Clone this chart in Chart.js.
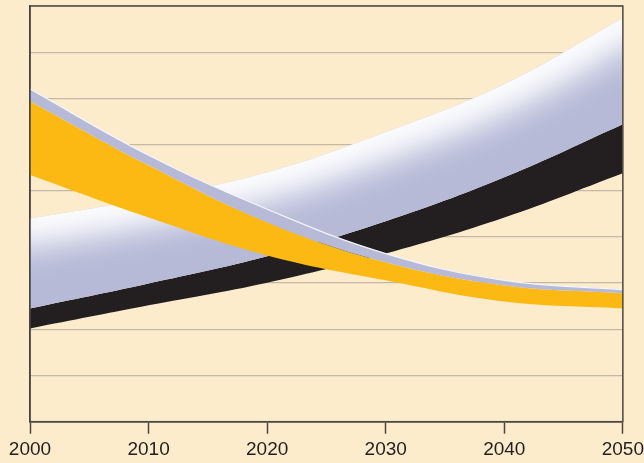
<!DOCTYPE html>
<html>
<head>
<meta charset="utf-8">
<script src="https://cdn.jsdelivr.net/npm/chart.js@4/dist/chart.umd.min.js"></script>
<style>
  html, body { margin: 0; padding: 0; background: #FCECCC; overflow: hidden; }
  canvas { display: block; }
</style>
</head>
<body>
<canvas id="grafico" width="644" height="463"></canvas>
<script>
// Años del eje X
const anios = [2000, 2010, 2020, 2030, 2040, 2050];

// Banda descendente (lavanda fina arriba, amarillo debajo)
const bajaSuperior = [7.20, 5.77, 4.60, 3.64, 3.06, 2.86];
const bajaMedio = [6.94, 5.55, 4.32, 3.45, 2.95, 2.78];
const bajaInferior = [5.34, 4.42, 3.60, 3.06, 2.60, 2.45];

// Banda ascendente (lavanda arriba, negro debajo)
const subidaSuperior = [4.40, 4.84, 5.40, 6.27, 7.31, 8.74];
const subidaMedio = [2.45, 2.99, 3.58, 4.34, 5.29, 6.44];
const subidaInferior = [2.02, 2.52, 3.01, 3.64, 4.42, 5.38];

const lavanda = '#B6BAD7';
const amarillo = '#FDB913';
const negro = '#231F20';
const marco = '#4A4643';

function puntos(valores) {
    return anios.map((a, i) => ({ x: a, y: valores[i] }));
}

// Recorre la curva de un dataset usando los puntos de control de Chart.js
function trazarCurva(ctx, pts, inverso, mover) {
    const lista = inverso ? pts.slice().reverse() : pts;
    lista.forEach((p, i) => {
        if (i === 0) {
            if (mover) ctx.moveTo(p.x, p.y); else ctx.lineTo(p.x, p.y);
            return;
        }
        const prev = lista[i - 1];
        if (!inverso) ctx.bezierCurveTo(prev.cp2x, prev.cp2y, p.cp1x, p.cp1y, p.x, p.y);
        else ctx.bezierCurveTo(prev.cp1x, prev.cp1y, p.cp2x, p.cp2y, p.x, p.y);
    });
}

// Brillo blanco a lo largo del borde superior de la banda ascendente
const pluginBrillo = {
    id: 'brillo',
    afterDatasetDraw(chart, args) {
        if (args.index !== 3) return;
        const sup = chart.getDatasetMeta(3).data;
        const med = chart.getDatasetMeta(4).data;
        const ctx = chart.ctx;
        ctx.save();
        ctx.beginPath();
        trazarCurva(ctx, sup, false, true);
        trazarCurva(ctx, med, true, false);
        ctx.closePath();
        ctx.clip();
        ctx.beginPath();
        trazarCurva(ctx, sup, false, true);
        ctx.strokeStyle = '#FFFFFF';
        ctx.lineJoin = 'round';
        ctx.lineCap = 'square';
        if ('filter' in ctx) {
            ctx.filter = 'blur(16px)';
            ctx.lineWidth = 54;
            ctx.stroke();
        } else {
            for (let w = 90; w > 0; w -= 6) {
                ctx.globalAlpha = 0.08;
                ctx.lineWidth = w;
                ctx.stroke();
            }
        }
        ctx.restore();
    }
};

// Marco completo alrededor del área del gráfico
const pluginMarco = {
    id: 'marco',
    afterDatasetsDraw(chart) {
        const { ctx, chartArea } = chart;
        ctx.save();
        ctx.strokeStyle = marco;
        ctx.lineWidth = 1.5;
        ctx.strokeRect(chartArea.left, chartArea.top, chartArea.right - chartArea.left, chartArea.bottom - chartArea.top);
        ctx.restore();
    }
};

const serieBase = {
    pointRadius: 0,
    borderWidth: 0,
    tension: 0.4
};

new Chart(document.getElementById('grafico'), {
    type: 'line',
    data: {
        datasets: [
            { ...serieBase, data: puntos(bajaSuperior), fill: '+1', backgroundColor: lavanda, borderColor: '#F4F4FA', borderWidth: 1.2 },
            { ...serieBase, data: puntos(bajaMedio), fill: '+1', backgroundColor: amarillo },
            { ...serieBase, data: puntos(bajaInferior), fill: false },
            { ...serieBase, data: puntos(subidaSuperior), fill: '+1', backgroundColor: lavanda },
            { ...serieBase, data: puntos(subidaMedio), fill: '+1', backgroundColor: negro },
            { ...serieBase, data: puntos(subidaInferior), fill: false }
        ]
    },
    options: {
        responsive: false,
        animation: false,
        layout: { padding: { left: 30, right: 21, top: 6, bottom: -3 } },
        plugins: {
            legend: { display: false },
            tooltip: { enabled: false }
        },
        scales: {
            x: {
                type: 'linear',
                min: 2000,
                max: 2050,
                ticks: {
                    stepSize: 10,
                    color: negro,
                    padding: 0,
                    maxRotation: 0,
                    font: { family: '"Liberation Sans", Arial, sans-serif', size: 19, lineHeight: 1.7 },
                    callback: v => String(v)
                },
                grid: {
                    drawOnChartArea: false,
                    drawTicks: true,
                    tickLength: 12,
                    tickColor: marco,
                    tickWidth: 1.5
                },
                border: { color: marco, width: 1.5 }
            },
            y: {
                min: 0,
                max: 9,
                ticks: { stepSize: 1, display: false },
                grid: { color: '#C3B9A4', lineWidth: 1.3, drawTicks: false },
                border: { color: marco, width: 1.5 }
            }
        }
    },
    plugins: [pluginBrillo, pluginMarco]
});
</script>
</body>
</html>
